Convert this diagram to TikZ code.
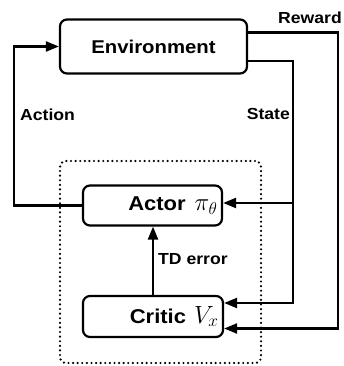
\documentclass[tikz,border=0pt]{standalone}
\usepackage{fontspec}
\setmainfont{Liberation Sans}[FakeStretch=1.1]
\usetikzlibrary{arrows.meta,calc}
\newcommand{\mymath}[1]{\scalebox{1.2}{$#1$}}
\tikzset{
  box/.style={draw, line width=2.2pt, rounded corners=7pt, font=\bfseries\fontsize{20}{24}\selectfont, inner xsep=4.5pt, align=right},
  lab/.style={font=\bfseries\fontsize{16}{19}\selectfont, inner sep=0pt},
  conn/.style={line width=2.2pt, -{Triangle[length=13pt,width=10pt]}},
  dotbox/.style={draw, line width=2.4pt, dash pattern=on 0pt off 4.6pt, line cap=round, rounded corners=6pt},
}
\begin{document}
\begin{tikzpicture}[x=1pt,y=-1pt]
\useasboundingbox (0,0) rectangle (343,366);
\node[dotbox, minimum width=201pt, minimum height=202pt] (acbox) at (160.5,262) {};
\node[box, minimum width=187pt, minimum height=54pt, align=center, font=\bfseries\fontsize{18.5}{22}\selectfont] (env) at (153.5,46.5) {Environment};
\node[box, minimum width=139pt, minimum height=40pt, text width=130pt] (actor) at (152.5,205.5) {Actor\hspace{9pt}\mymath{\pi_\theta}};
\node[box, minimum width=140pt, minimum height=41pt, text width=131pt] (critic) at (153,316.5) {Critic\hspace{8pt}\mymath{V_x}};
\coordinate (ax) at (14,0);
\coordinate (sx) at (293,0);
\coordinate (rx) at (338,0);
\coordinate (sy) at (0,61);
\coordinate (ry) at (0,32.5);
\coordinate (say) at (0,203);
\coordinate (scy) at (0,303);
\coordinate (rcy) at (0,328.5);
\draw[conn] (actor.west) -- (actor.west -| ax) -- (env.west -| ax) -- (env.west);
\draw[conn] (env.east |- sy) -- (sx |- sy) -- (sx |- scy) -- (critic.east |- scy);
\draw[conn] (sx |- say) -- (actor.east |- say);
\draw[conn] (env.east |- ry) -- (rx |- ry) -- (rx |- rcy) -- (critic.east |- rcy);
\draw[conn] (critic.north) -- (critic.north |- actor.south);
\node[lab, anchor=west] (td) at (158,259) {TD error};
\node[lab, anchor=east] (rw) at (342,17.5) {Reward};
\node[lab, anchor=east] (st) at (290,114) {State};
\node[lab, anchor=west] (act) at (20,115) {Action};
\end{tikzpicture}
\end{document}
